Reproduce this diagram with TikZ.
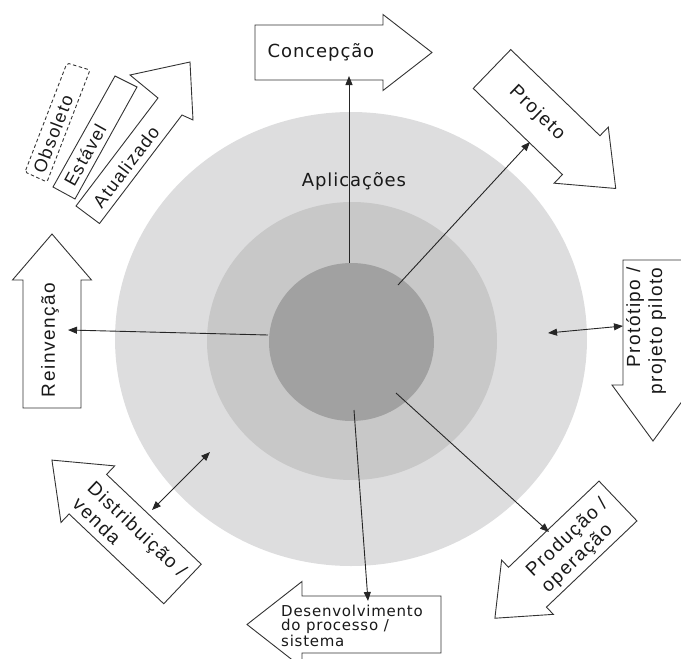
\documentclass[tikz,border=0pt]{standalone}
\usepackage{fontspec}
\usetikzlibrary{arrows.meta,shapes.geometric}
\newfontfamily\labfont[LetterSpace=8]{Liberation Sans}
\newfontfamily\verfont[LetterSpace=5]{DejaVu Sans}

% block arrow: tail centre (x,y), direction, body length, body width, head length, head width
\newcommand\BlkArrow[7]{%
  \begin{scope}[shift={(#1,#2)},rotate=#3]
    \draw[barrow] (0,{-#5/2}) -- (#4,{-#5/2}) -- (#4,{-#7/2}) -- ({#4+#6},0)
      -- (#4,{#7/2}) -- (#4,{#5/2}) -- (0,{#5/2}) -- cycle;
  \end{scope}}

\begin{document}
\begin{tikzpicture}[x=1pt,y=-1pt,
  barrow/.style={draw=black!80,line width=0.9pt,fill=white,line join=miter},
  conn/.style={draw=black!85,line width=0.9pt,-{Triangle[length=9pt,width=7pt]}},
  dconn/.style={draw=black!85,line width=0.9pt,{Triangle[length=9pt,width=7pt]}-{Triangle[length=9pt,width=7pt]}},
  big/.style={font={\labfont\fontsize{19}{22}\selectfont},inner sep=0pt,text=black!90},
  small/.style={font={\labfont\fontsize{18}{20}\selectfont},inner sep=0pt,text=black!90},
  verd/.style={font={\verfont\fontsize{18}{14}\selectfont},inner sep=0pt,text=black!90},
  verdsm/.style={font={\verfont\fontsize{15}{14}\selectfont},inner sep=0pt,text=black!90},
  ring/.style={ellipse,draw=none,inner sep=0pt}]

\useasboundingbox (0,0) rectangle (681,659);
\clip (0,0) rectangle (681,659);

% nested discs
\node[ring,fill={rgb,255:red,221;green,221;blue,222},minimum width=472pt,minimum height=454pt] (outer) at (351,339) {};
\node[ring,fill={rgb,255:red,200;green,200;blue,200},minimum width=290pt,minimum height=278pt] (middle) at (352,341) {};
\node[ring,fill={rgb,255:red,161;green,161;blue,161},minimum width=165pt,minimum height=158pt] (inner) at (351.5,342) {};
\node[verd] (aplic) at (354,181) {Aplicações};

% block arrows around the discs
\BlkArrow{255}{52.5}{0}{128}{55}{49}{76}
\BlkArrow{492}{69}{-44}{124}{54}{48}{78}
\BlkArrow{52}{408}{90}{128}{58}{46}{79}
\BlkArrow{653}{260}{-90}{125}{60}{56}{82}
\BlkArrow{618}{501}{-136.4}{125}{55}{45}{75}
\BlkArrow{441}{624.5}{180}{139}{57}{55}{86}
\BlkArrow{182.5}{584}{136.5}{130.5}{54.5}{49.5}{78}

% technology state: updated arrow, stable and obsolete boxes
\draw[barrow] (76,206) -- (158,98) -- (130,75) -- (190,62) -- (193,120) -- (182,115) -- (99.5,223.5) -- cycle;
\draw[barrow] (53,187) -- (115,76) -- (137,87) -- (75,199) -- cycle;
\draw[draw=black!80,line width=0.9pt,dash pattern=on 3.5pt off 2.5pt,rounded corners=2pt] (25,172) -- (67,63) -- (90,70) -- (47,182) -- cycle;

% labels
\node[verd] (concepcao) at (321,52) {Concepção};
\node[big,rotate=-44] (projeto) at (537,113) {Projeto};
\node[big,rotate=90] (reinv) at (50,340) {Reinvenção};
\node[big,rotate=90,align=right] (prot) at (646,331) {Protótipo /\\projeto piloto};
\node[big,rotate=43.6,align=left] (prod) at (575,546) {Produção /\\operação};
\node[big,rotate=-43.5,align=left] (distr) at (130,537) {Distribuição /\\venda};
\node[verdsm,align=left,anchor=west] (desenv) at (281,626) {Desenvolvimento\\do processo /\\sistema};
\node[small,rotate=69] (obs) at (53,134) {Obsoleto};
\node[small,rotate=61] (est) at (85,155) {Estável};
\node[small,rotate=53] (atual) at (126,167) {Atualizado};

% connector end points
\coordinate (s1) at (349,263);  \coordinate (e1) at (349,76);
\coordinate (s2) at (398,285);  \coordinate (e2) at (530,142);
\coordinate (s3) at (268,335);  \coordinate (e3) at (68,330);
\coordinate (s4) at (548,333);  \coordinate (e4) at (623,326);
\coordinate (s5) at (396,393);  \coordinate (e5) at (549,532);
\coordinate (s6) at (354,410);  \coordinate (e6) at (368,601);
\coordinate (s7) at (152,510);  \coordinate (e7) at (210,452);

\draw[conn] (s1) -- (e1);
\draw[conn] (s2) -- (e2);
\draw[conn] (s3) -- (e3);
\draw[dconn] (s4) -- (e4);
\draw[conn] (s5) -- (e5);
\draw[conn] (s6) -- (e6);
\draw[dconn] (s7) -- (e7);
\end{tikzpicture}
\end{document}
